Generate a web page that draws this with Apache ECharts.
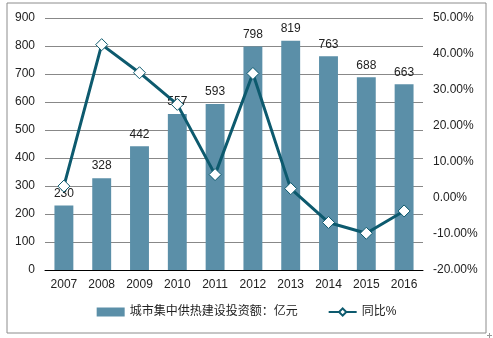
<!DOCTYPE html>
<html><head><meta charset="utf-8">
<script src="https://cdn.jsdelivr.net/npm/echarts@6/dist/echarts.min.js"></script>
<style>html,body{margin:0;padding:0;background:#fff}#c{width:493px;height:338px}</style>
</head><body><div id="c"></div>
<script>
const years = ['2007','2008','2009','2010','2011','2012','2013','2014','2015','2016'];
const investment = [230, 328, 442, 557, 593, 798, 819, 763, 688, 663];
const growthPct = [3.3, 42.6, 34.8, 26.0, 6.5, 34.6, 2.6, -6.8, -9.8, -3.6];
const barName = '城市集中供热建设投资额：亿元';
const lineName = '同比%';

const font = '"Liberation Sans", Arial, "Noto Sans CJK SC", sans-serif';
const chart = echarts.init(document.getElementById('c'));
chart.setOption({
  animation: false,
  textStyle: { fontFamily: font },
  graphic: [{
    type: 'rect', shape: { x: 7, y: 3, width: 479, height: 330 },
    style: { fill: 'none', stroke: '#8c8c8c', lineWidth: 1 }, silent: true
  }, {
    type: 'polyline', shape: { points: [[487, 335.5], [492, 335.5]] },
    style: { stroke: '#999', lineWidth: 1 }, silent: true
  }, {
    type: 'polyline', shape: { points: [[489.5, 333], [489.5, 338]] },
    style: { stroke: '#999', lineWidth: 1 }, silent: true
  }],
  legend: {
    bottom: 15, left: 'center', itemGap: 30, itemWidth: 28, itemHeight: 9,
    textStyle: { fontSize: 12, color: '#222', fontFamily: font },
    data: [{ name: barName, icon: 'rect' }, { name: lineName }]
  },
  grid: { left: 45, right: 70, top: 18, bottom: 68 },
  xAxis: {
    type: 'category', data: years,
    axisLine: { lineStyle: { color: '#000', width: 1 } },
    axisTick: { show: false },
    axisLabel: { color: '#222', fontSize: 12, margin: 9 }
  },
  yAxis: [{
    type: 'value', min: 0, max: 900, interval: 100,
    axisLine: { show: false }, axisTick: { show: false },
    axisLabel: { color: '#222', fontSize: 12, margin: 10 },
    splitLine: { lineStyle: { color: '#888', width: 1 } }
  }, {
    type: 'value', min: -20, max: 50, interval: 10,
    axisLine: { show: false }, axisTick: { show: false },
    axisLabel: { color: '#222', fontSize: 12, margin: 10, formatter: v => v.toFixed(2) + '%' },
    splitLine: { show: false }
  }],
  series: [{
    name: barName, type: 'bar', data: investment, barWidth: '50%',
    itemStyle: { color: '#5b8fa8' },
    label: { show: true, position: 'top', distance: 6, color: '#222', fontSize: 12 }
  }, {
    name: lineName, type: 'line', yAxisIndex: 1, data: growthPct,
    symbol: 'diamond', symbolSize: 12,
    lineStyle: { color: '#0d5a6e', width: 3 },
    itemStyle: { color: '#fff', borderColor: '#0d5a6e', borderWidth: 1 },
    z: 3
  }]
});
</script></body></html>
